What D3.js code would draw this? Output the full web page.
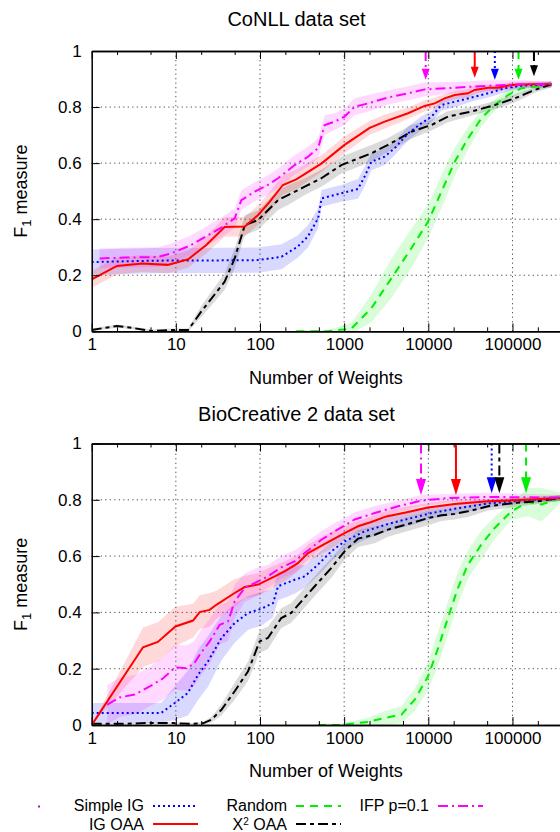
<!DOCTYPE html>
<html>
<head>
<meta charset="utf-8">
<script src="https://cdn.jsdelivr.net/npm/d3@7"></script>
<style>
  html, body { margin: 0; padding: 0; background: #fff; }
  svg text { font-family: "Liberation Sans", Arial, sans-serif; fill: #000; }
</style>
</head>
<body>
<div id="chart"></div>
<script>
// ---- data ----
const seriesNames = ["Simple IG", "IG OAA", "Random", "X2 OAA", "IFP p=0.1"];
const xTickValues = [1, 10, 100, 1000, 10000, 100000];
const xTickLabels = ["1", "10", "100", "1000", "10000", "100000"];
const yTickValues = [0, 0.2, 0.4, 0.6, 0.8, 1];
const yTickLabels = ["0", "0.2", "0.4", "0.6", "0.8", "1"];

// CoNLL data set
const conllSimpleIgX = [1, 5.6, 32, 95, 180, 280, 370, 490, 540, 920, 1460, 1750, 2100, 3030, 3980, 5740, 8260, 10900, 14300, 20600, 32400, 51300, 80700, 127000, 290000];
const conllSimpleIgF = [.247, .252, .253, .254, .266, .302, .338, .403, .474, .492, .508, .552, .605, .623, .653, .706, .742, .766, .807, .819, .834, .849, .867, .876, .881];
const conllSimpleIgSd = [.045, .045, .045, .045, .045, .04, .04, .035, .03, .03, .035, .035, .03, .03, .025, .025, .025, .02, .02, .02, .015, .015, .015, .01, .01];

const conllIgOaaX = [1, 2, 4, 8, 14, 23, 38, 66, 95, 130, 187, 270, 540, 1010, 2010, 3030, 5740, 9060, 11900, 15600, 20600, 29600, 35600, 51300, 67600, 97000, 166000, 290000];
const conllIgOaaF = [.185, .233, .242, .237, .257, .308, .372, .374, .415, .462, .522, .542, .599, .665, .726, .748, .778, .804, .813, .831, .843, .849, .861, .869, .869, .879, .881, .881];
const conllIgOaaSd = [.03, .03, .03, .03, .03, .03, .035, .035, .035, .035, .035, .035, .03, .03, .025, .025, .02, .02, .02, .015, .015, .015, .015, .01, .01, .01, .01, .01];

const conllRandomX = [270, 640, 1220, 2100, 3640, 6280, 9910, 14300, 20600, 29600, 42700, 61500, 88500, 127000, 290000];
const conllRandomF = [0, 0, .01, .082, .189, .296, .391, .498, .605, .688, .76, .807, .843, .867, .881];
const conllRandomSd = [.005, .005, .02, .05, .07, .07, .06, .06, .05, .04, .03, .02, .02, .015, .01];

const conllChiX = [1, 2, 3.2, 5.1, 8.8, 14, 20, 38, 50, 66, 95, 164, 215, 340, 536, 925, 2100, 3320, 6280, 10900, 17100, 32400, 61500, 106000, 184000, 290000];
const conllChiF = [.005, .019, .011, .001, .005, .005, .07, .177, .26, .379, .397, .468, .486, .516, .546, .593, .635, .665, .712, .736, .766, .784, .807, .831, .861, .881];
const conllChiSd = [.005, .005, .005, .005, .005, .005, .02, .03, .035, .035, .035, .035, .035, .03, .03, .03, .03, .025, .025, .02, .02, .015, .015, .015, .01, .01];

const conllIfpX = [1.24, 2.47, 6.1, 8.8, 15.3, 26.4, 34.7, 50, 60, 86.5, 124, 164, 258, 372, 489, 587, 773, 1010, 1330, 1920, 3320, 5740, 9060, 20600, 51300, 126000, 290000];
const conllIfpF = [.26, .263, .265, .278, .308, .35, .37, .403, .468, .498, .522, .546, .593, .623, .653, .736, .748, .766, .801, .813, .834, .849, .863, .869, .876, .881, .881];
const conllIfpSd = [.035, .035, .035, .035, .035, .035, .035, .035, .035, .035, .035, .035, .035, .035, .035, .035, .03, .03, .03, .03, .025, .025, .025, .02, .02, .015, .01];

// where each method reaches its plateau (arrows), same order as seriesNames
const conllArrowX = [61700, 35600, 118000, 180000, 9300];
const conllArrowTip = [.897, .905, .897, .91, .897];

// BioCreative 2 data set
const bcSimpleIgX = [1, 6.7, 9.7, 13.9, 18.4, 24.1, 34.8, 50, 72.1, 104, 143, 164, 258, 340, 489, 705, 1010, 1750, 3320, 6280, 10900, 20600, 51300, 127000, 367000];
const bcSimpleIgF = [.043, .043, .078, .114, .179, .226, .309, .362, .398, .413, .433, .493, .516, .528, .57, .617, .652, .688, .714, .735, .753, .768, .787, .797, .806];
const bcSimpleIgSd = [.035, .035, .06, .08, .09, .09, .08, .07, .06, .06, .05, .05, .05, .04, .04, .035, .03, .03, .025, .025, .02, .02, .015, .01, .01];

const bcIgOaaX = [1, 4.07, 6.1, 9.9, 16, 19.2, 25.2, 30.3, 50, 65.8, 94.6, 136, 196, 282, 372, 643, 1010, 1460, 2100, 3170, 5740, 9930, 20600, 51300, 127000, 367000];
const bcIgOaaF = [0, .276, .295, .35, .371, .401, .409, .427, .469, .49, .499, .522, .546, .575, .611, .65, .682, .706, .721, .741, .757, .773, .785, .795, .799, .806];
const bcIgOaaSd = [0, .07, .07, .07, .06, .06, .06, .05, .05, .04, .04, .04, .035, .03, .03, .03, .025, .02, .02, .02, .02, .015, .015, .01, .01, .01];

const bcRandomX = [489, 925, 1920, 3030, 4790, 6890, 9930, 13100, 17100, 22500, 29600, 42700, 61500, 97000, 153000, 220000, 367000];
const bcRandomF = [0, 0, .011, .025, .037, .09, .173, .274, .38, .487, .57, .641, .7, .759, .792, .783, .806];
const bcRandomSd = [.005, .005, .015, .025, .03, .04, .05, .06, .06, .06, .05, .05, .04, .03, .05, .06, .02];

const bcChiX = [1, 2.25, 4.67, 8.83, 15.3, 21, 26.4, 34.8, 50, 72.1, 98.9, 124, 179, 235, 310, 447, 705, 1010, 1460, 2310, 3320, 5740, 9930, 14300, 20600, 29600, 51300, 106000, 201000, 367000];
const bcChiF = [.004, .004, .007, .007, .004, .006, .019, .054, .12, .191, .297, .309, .38, .398, .439, .493, .558, .617, .662, .676, .694, .714, .735, .745, .75, .759, .777, .789, .795, .806];
const bcChiSd = [.003, .003, .003, .003, .003, .005, .01, .02, .03, .035, .04, .04, .035, .035, .035, .035, .035, .03, .03, .03, .025, .025, .025, .02, .02, .02, .015, .015, .01, .01];

const bcIfpX = [1.53, 2.15, 3.24, 4.89, 7.0, 9.86, 13.3, 16.4, 19.2, 25.2, 33.2, 41.7, 50, 65.8, 94.6, 124, 179, 258, 340, 536, 773, 1330, 2310, 4370, 8260, 17100, 51300, 367000];
const bcIfpF = [.072, .098, .108, .137, .165, .205, .202, .217, .25, .297, .356, .368, .439, .487, .51, .528, .56, .581, .611, .658, .688, .73, .753, .777, .797, .806, .81, .808];
const bcIfpSd = [.07, .07, .07, .07, .075, .08, .08, .08, .08, .08, .07, .07, .06, .05, .05, .04, .04, .04, .035, .03, .03, .025, .025, .02, .02, .015, .015, .01];

const bcArrowX = [56600, 21300, 145000, 69800, 8190];
const bcArrowTip = [.823, .817, .823, .823, .817];

// ---- styles ----
const STYLE = [
  { color: "#0000ff", dash: "2,3" },        // Simple IG
  { color: "#ff0000", dash: null },         // IG OAA
  { color: "#00ee00", dash: "8,6" },        // Random
  { color: "#000000", dash: "10,4,4,4" },   // X2 OAA
  { color: "#ff00ff", dash: "10,4,2,4" }    // IFP
];

const W = 560, H = 832;
const LEFT = 91.7, RIGHT = 560;
const X_MAX = 367000;

const zip = (xs, fs, sds) => xs.map((v, i) => ({ x: v, f: fs[i], s: sds[i] }));

const panels = [
  {
    key: "conll", title: "CoNLL data set", titleY: 26, top: 51, bottom: 331.3, xLabelY: 384,
    headW: 8, headL: 11,
    series: [
      zip(conllSimpleIgX, conllSimpleIgF, conllSimpleIgSd),
      zip(conllIgOaaX, conllIgOaaF, conllIgOaaSd),
      zip(conllRandomX, conllRandomF, conllRandomSd),
      zip(conllChiX, conllChiF, conllChiSd),
      zip(conllIfpX, conllIfpF, conllIfpSd)
    ],
    arrowX: conllArrowX, arrowTip: conllArrowTip
  },
  {
    key: "bc", title: "BioCreative 2 data set", titleY: 420.5, top: 443.5, bottom: 725, xLabelY: 777,
    headW: 10, headL: 16,
    series: [
      zip(bcSimpleIgX, bcSimpleIgF, bcSimpleIgSd),
      zip(bcIgOaaX, bcIgOaaF, bcIgOaaSd),
      zip(bcRandomX, bcRandomF, bcRandomSd),
      zip(bcChiX, bcChiF, bcChiSd),
      zip(bcIfpX, bcIfpF, bcIfpSd)
    ],
    arrowX: bcArrowX, arrowTip: bcArrowTip
  }
];

const svg = d3.select("#chart").append("svg")
  .attr("width", W)
  .attr("height", H);

// draw order of bands / lines
const bandOrder = [0, 1, 4, 2, 3];
const lineOrder = [2, 3, 0, 1, 4];

function drawPanel(panel) {
  const x = d3.scaleLog().domain([1, X_MAX]).range([LEFT, RIGHT]);
  const y = d3.scaleLinear().domain([0, 1]).range([panel.bottom, panel.top]);
  const g = svg.append("g").attr("class", "panel-" + panel.key);

  // title
  g.append("text")
    .attr("x", 296.5).attr("y", panel.titleY)
    .attr("text-anchor", "middle")
    .attr("font-size", 20)
    .text(panel.title);

  // clip
  const clipId = "clip-" + panel.key;
  svg.append("clipPath").attr("id", clipId)
    .append("rect")
    .attr("x", LEFT).attr("y", panel.top)
    .attr("width", RIGHT - LEFT).attr("height", panel.bottom - panel.top);

  // grid
  const grid = g.append("g").attr("stroke", "#555").attr("stroke-width", 1).attr("stroke-dasharray", "1.3,3.2");
  grid.selectAll(".gx").data(xTickValues.slice(1)).join("line")
    .attr("x1", d => x(d)).attr("x2", d => x(d))
    .attr("y1", y(0)).attr("y2", y(1));
  grid.selectAll(".gy").data(yTickValues.slice(1, -1)).join("line")
    .attr("x1", LEFT).attr("x2", RIGHT)
    .attr("y1", d => y(d)).attr("y2", d => y(d));

  const plot = g.append("g").attr("clip-path", `url(#${clipId})`);

  // std-dev bands
  const area = d3.area()
    .x(d => x(d.x))
    .y0(d => y(d.f - d.s))
    .y1(d => y(d.f + d.s));

  bandOrder.forEach(i => {
    plot.append("path")
      .datum(panel.series[i])
      .attr("d", area)
      .attr("fill", STYLE[i].color)
      .attr("fill-opacity", i === 3 ? 0.14 : 0.15)
      .attr("stroke", "none");
  });

  // mean curves
  const line = d3.line().x(d => x(d.x)).y(d => y(d.f));
  lineOrder.forEach(i => {
    plot.append("path")
      .datum(panel.series[i])
      .attr("d", line)
      .attr("fill", "none")
      .attr("stroke", STYLE[i].color)
      .attr("stroke-width", 2)
      .attr("stroke-dasharray", STYLE[i].dash);
  });

  // plateau arrows
  panel.arrowX.forEach((ax, i) => {
    const cx = x(ax);
    const tip = y(panel.arrowTip[i]);
    g.append("line")
      .attr("x1", cx).attr("x2", cx)
      .attr("y1", y(1)).attr("y2", tip - panel.headL + 1)
      .attr("stroke", STYLE[i].color)
      .attr("stroke-width", 2)
      .attr("stroke-dasharray", STYLE[i].dash);
    g.append("path")
      .attr("d", `M${cx - panel.headW / 2},${tip - panel.headL}L${cx + panel.headW / 2},${tip - panel.headL}L${cx},${tip}Z`)
      .attr("fill", STYLE[i].color);
  });

  // axes (ticks point inward, mirrored on top)
  const fmtX = (d) => xTickLabels[xTickValues.indexOf(d)];
  const fmtY = (d) => yTickLabels[yTickValues.indexOf(d)];

  const styleAxis = (sel) => {
    sel.attr("font-family", null).attr("font-size", null);
    sel.select(".domain").attr("stroke", "#000").attr("stroke-width", 1.5);
    sel.selectAll(".tick line").attr("stroke", "#000").attr("stroke-width", 1);
    sel.selectAll(".tick text").attr("font-size", 17).attr("fill", "#000");
  };

  const minorX = [];
  xTickValues.forEach(v => { minorX.push(v * 2, v * 5); });

  g.append("g")
    .attr("transform", `translate(0,${y(0)})`)
    .call(d3.axisBottom(x).tickValues(xTickValues).tickFormat(fmtX).tickSizeInner(-8).tickSizeOuter(0).tickPadding(7))
    .call(styleAxis);
  g.append("g")
    .attr("transform", `translate(0,${y(0)})`)
    .call(d3.axisBottom(x).tickValues(minorX).tickFormat("").tickSizeInner(-4).tickSizeOuter(0))
    .call(styleAxis);
  g.append("g")
    .attr("transform", `translate(0,${y(1)})`)
    .call(d3.axisTop(x).tickValues(xTickValues).tickFormat("").tickSizeInner(-8).tickSizeOuter(0))
    .call(styleAxis);
  g.append("g")
    .attr("transform", `translate(0,${y(1)})`)
    .call(d3.axisTop(x).tickValues(minorX).tickFormat("").tickSizeInner(-4).tickSizeOuter(0))
    .call(styleAxis);
  g.append("g")
    .attr("transform", `translate(${LEFT},0)`)
    .call(d3.axisLeft(y).tickValues(yTickValues).tickFormat(fmtY).tickSizeInner(-8).tickSizeOuter(0).tickPadding(10))
    .call(styleAxis);

  // axis titles
  g.append("text")
    .attr("x", (LEFT + RIGHT) / 2).attr("y", panel.xLabelY)
    .attr("text-anchor", "middle")
    .attr("font-size", 18)
    .text("Number of Weights");

  const yl = g.append("text")
    .attr("transform", `translate(27,${(panel.top + panel.bottom) / 2}) rotate(-90)`)
    .attr("text-anchor", "middle")
    .attr("font-size", 18);
  yl.append("tspan").text("F");
  yl.append("tspan").attr("dy", 4).attr("font-size", 13).text("1");
  yl.append("tspan").attr("dy", -4).text(" measure");
}

panels.forEach(drawPanel);

// ---- legend ----
const legendCols = [144, 287, 429];
const legendRows = [{ text: 811, line: 806 }, { text: 829.5, line: 824 }];
const legendPos = [[0, 0], [0, 1], [1, 0], [1, 1], [2, 0]]; // [col,row] per series

const legend = svg.append("g").attr("font-size", 16);
seriesNames.forEach((name, i) => {
  const [c, r] = legendPos[i];
  const tx = legendCols[c];
  const t = legend.append("text")
    .attr("x", tx).attr("y", legendRows[r].text)
    .attr("text-anchor", "end");
  if (name === "X2 OAA") {
    t.append("tspan").text("X");
    t.append("tspan").attr("dy", -5).attr("font-size", 10).text("2");
    t.append("tspan").attr("dy", 5).text(" OAA");
  } else {
    t.text(name);
  }
  legend.append("line")
    .attr("x1", tx + 9).attr("x2", tx + 54)
    .attr("y1", legendRows[r].line).attr("y2", legendRows[r].line)
    .attr("stroke", STYLE[i].color)
    .attr("stroke-width", 2)
    .attr("stroke-dasharray", STYLE[i].dash);
});

// stray key point at the far left of the legend
legend.append("rect")
  .attr("x", 38).attr("y", 805.5)
  .attr("width", 2).attr("height", 2)
  .attr("fill", "#a020a0");
</script>
</body>
</html>
